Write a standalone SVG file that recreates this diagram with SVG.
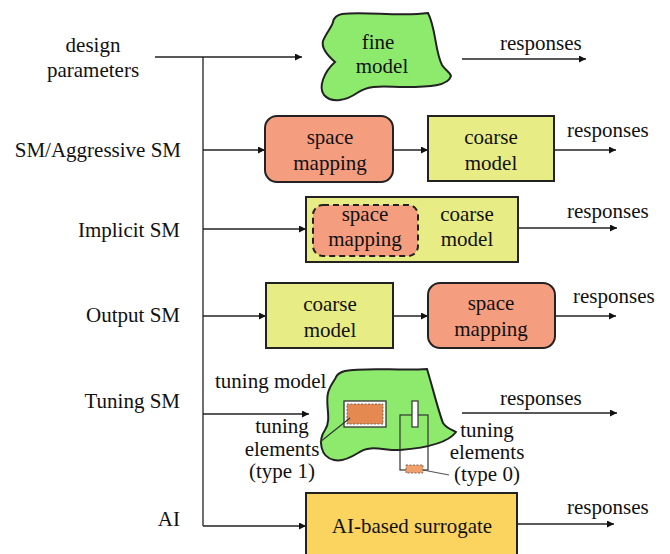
<svg xmlns="http://www.w3.org/2000/svg" width="670" height="554" viewBox="0 0 670 554" font-family="'Liberation Serif', 'DejaVu Serif', serif">
<defs>
<style>
text{font-family:'Liberation Serif','DejaVu Serif',serif}
.t{font-size:21px;fill:#111}
.m{text-anchor:middle}
.r{text-anchor:end}
.ln{stroke:#222;stroke-width:1.3;fill:none}
.box{stroke:#222;stroke-width:2}
.sal{fill:#F59D7F}
.yel{fill:#E8EC84}
.grn{fill:#8DEA6C;stroke:#222;stroke-width:2}
</style>
<marker id="ah" viewBox="0 0 10 10" refX="10" refY="5" markerWidth="8" markerHeight="7" markerUnits="userSpaceOnUse" orient="auto">
<path d="M0,0 L10,5 L0,10 z" fill="#111"/>
</marker>
</defs>
<rect width="670" height="554" fill="#fff"/>

<g id="labels">
<text class="t m" x="93" y="52">design</text>
<text class="t m" x="93" y="77">parameters</text>
<text class="t r" x="181" y="157">SM/Aggressive SM</text>
<text class="t r" x="180" y="237">Implicit SM</text>
<text class="t r" x="180" y="322">Output SM</text>
<text class="t r" x="180" y="408">Tuning SM</text>
<text class="t r" x="180" y="526">AI</text>
</g>

<g id="connectors">
<line class="ln" x1="155" y1="57" x2="302" y2="57" marker-end="url(#ah)"/>
<line class="ln" x1="203" y1="57" x2="203" y2="526"/>
<line class="ln" x1="203" y1="150" x2="265" y2="150" marker-end="url(#ah)"/>
<line class="ln" x1="393" y1="150" x2="428" y2="150" marker-end="url(#ah)"/>
<line class="ln" x1="554" y1="150" x2="616" y2="150" marker-end="url(#ah)"/>
<line class="ln" x1="203" y1="229" x2="306" y2="229" marker-end="url(#ah)"/>
<line class="ln" x1="518" y1="228" x2="617" y2="228" marker-end="url(#ah)"/>
<line class="ln" x1="203" y1="316" x2="266" y2="316" marker-end="url(#ah)"/>
<line class="ln" x1="393" y1="316" x2="428" y2="316" marker-end="url(#ah)"/>
<line class="ln" x1="555" y1="316" x2="616" y2="316" marker-end="url(#ah)"/>
<line class="ln" x1="203" y1="414" x2="309" y2="414" marker-end="url(#ah)"/>
<line class="ln" x1="462" y1="413" x2="617" y2="413" marker-end="url(#ah)"/>
<line class="ln" x1="203" y1="526" x2="306" y2="526" marker-end="url(#ah)"/>
<line class="ln" x1="517" y1="524" x2="614" y2="524" marker-end="url(#ah)"/>
<line class="ln" x1="462" y1="59" x2="586" y2="59" marker-end="url(#ah)"/>
<text class="t" x="500" y="50">responses</text>
<text class="t" x="567" y="137">responses</text>
<text class="t" x="567" y="218">responses</text>
<text class="t" x="573" y="303">responses</text>
<text class="t" x="500" y="405">responses</text>
<text class="t" x="567" y="514">responses</text>
</g>

<g id="fine-model">
<path class="grn" d="M342 14 C365 11,400 17,428 13 C436 28,435 52,442 65 C445 70,450 72,451 76 C448 86,430 87,405 87 C385 87,370 84,357 93 C347 100,332 104,324 95 C318 87,324 72,335 62 C327 55,321 48,323 41 C326 33,332 27,333 22 C334 17,337 15,342 14 Z"/>
<text class="t m" x="378" y="49">fine</text>
<text class="t m" x="382" y="73">model</text>
</g>

<g id="sm-space-mapping">
<rect class="box sal" x="265" y="116" width="128" height="66" rx="12"/>
<text class="t m" x="330" y="144">space</text>
<text class="t m" x="330" y="170">mapping</text>
</g>
<g id="sm-coarse-model">
<rect class="box yel" x="428" y="116" width="126" height="65"/>
<text class="t m" x="491" y="144">coarse</text>
<text class="t m" x="491" y="170">model</text>
</g>

<g id="implicit-sm">
<rect class="box yel" x="306" y="197" width="212" height="65"/>
<rect class="sal" x="313" y="205" width="105" height="51" rx="10" stroke="#222" stroke-width="2" stroke-dasharray="6,4"/>
<text class="t m" x="365" y="221">space</text>
<text class="t m" x="365" y="246">mapping</text>
<text class="t m" x="467" y="221">coarse</text>
<text class="t m" x="467" y="246">model</text>
</g>

<g id="out-coarse-model">
<rect class="box yel" x="266" y="283" width="127" height="65"/>
<text class="t m" x="330" y="311">coarse</text>
<text class="t m" x="330" y="337">model</text>
</g>
<g id="out-space-mapping">
<rect class="box sal" x="428" y="283" width="127" height="65" rx="12"/>
<text class="t m" x="491" y="310">space</text>
<text class="t m" x="491" y="336">mapping</text>
</g>

<g id="tuning-model">
<text class="t" x="215" y="388">tuning model</text>
<path class="grn" d="M345 371 C365 367,400 371,427 369 C432 385,438 410,443 423 C447 429,453 430,456 432 C448 443,425 448,400 450 C385 451,370 444,358 453 C350 458,342 462,334 460 C320 457,318 440,325 430 C332 420,325 405,328 393 C330 385,335 380,336 377 C338 373,341 372,345 371 Z"/>
<rect x="344" y="401" width="42" height="26" fill="#fff" stroke="#333" stroke-width="1.3"/>
<rect x="347" y="404" width="36" height="20" fill="#E48A50" stroke="#555" stroke-width="0.8" stroke-dasharray="2,1.5"/>
<rect x="400" y="415" width="28" height="55" fill="none" stroke="#333" stroke-width="1.2"/>
<rect x="412" y="401" width="6" height="26" fill="#fff" stroke="#333" stroke-width="1.2"/>
<rect x="406" y="465" width="17" height="8" fill="#F0A06A" stroke="#555" stroke-width="0.8" stroke-dasharray="2,1.5"/>
<line x1="320" y1="442" x2="350" y2="418" stroke="#333" stroke-width="1.2"/>
<line x1="423" y1="470" x2="449" y2="475" stroke="#555" stroke-width="1.2"/>
<text class="t m" x="282" y="433">tuning</text>
<text class="t m" x="282" y="456">elements</text>
<text class="t m" x="282" y="478">(type 1)</text>
<text class="t m" x="487" y="437">tuning</text>
<text class="t m" x="487" y="459">elements</text>
<text class="t m" x="487" y="481">(type 0)</text>
</g>

<g id="ai-surrogate">
<rect class="box" x="306" y="493" width="211" height="70" fill="#FBD45F"/>
<text class="t m" x="412" y="533">AI-based surrogate</text>
</g>
</svg>
